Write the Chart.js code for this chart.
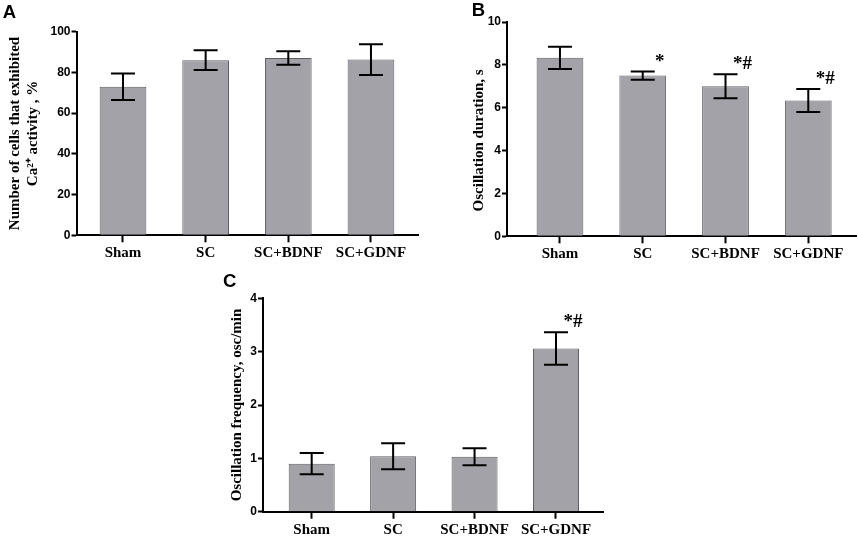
<!DOCTYPE html>
<html>
<head>
<meta charset="utf-8">
<script src="https://cdn.jsdelivr.net/npm/chart.js@4.4.1/dist/chart.umd.min.js"></script>
<style>
    html, body { margin: 0; padding: 0; background: #fff; }
    body { width: 858px; height: 536px; position: relative; overflow: hidden; }
    .panel { position: absolute; }
</style>
</head>
<body>
<div class="panel" style="left:0;top:0;width:430px;height:270px;"><canvas id="cellsChart"></canvas></div>
<div class="panel" style="left:430px;top:0;width:428px;height:270px;"><canvas id="durationChart"></canvas></div>
<div class="panel" style="left:210px;top:270px;width:430px;height:266px;"><canvas id="frequencyChart"></canvas></div>
<script>
// groups on the x axis (same for all three panels)
const groups = ['Sham', 'SC', 'SC+BDNF', 'SC+GDNF'];

// A: cells with Ca2+ activity, %
const cellsPct = [73, 86, 87.1, 86.3];
const cellsPctErr = [6.5, 4.85, 3.3, 7.55];
const cellsTicks = [0, 20, 40, 60, 80, 100];

// B: oscillation duration, s
const duration = [8.33, 7.5, 7.0, 6.34];
const durationErr = [0.52, 0.19, 0.56, 0.535];
const durationMarks = ['', '*', '*#', '*#'];
const durationTicks = [0, 2, 4, 6, 8, 10];

// C: oscillation frequency, osc/min
const frequency = [0.9, 1.04, 1.03, 3.06];
const frequencyErr = [0.2, 0.245, 0.16, 0.305];
const frequencyMarks = ['', '', '', '*#'];
const frequencyTicks = [0, 1, 2, 3, 4];

const BAR_FILL = '#a3a2a8';
const BAR_EDGE = '#5e5d62';

// error bars + significance marks, drawn over the bars
const errorBars = {
    id: 'errorBars',
    afterDatasetsDraw(chart, args, opts) {
        const ctx = chart.ctx;
        const y = chart.scales.y;
        const meta = chart.getDatasetMeta(0);
        const values = chart.data.datasets[0].data;
        ctx.save();
        ctx.strokeStyle = '#000';
        ctx.fillStyle = '#000';
        ctx.lineWidth = 2;
        meta.data.forEach((bar, i) => {
            const v = values[i].y;
            const e = opts.errors[i];
            const top = y.getPixelForValue(v + e);
            const bot = y.getPixelForValue(v - e);
            ctx.beginPath();
            ctx.moveTo(bar.x, top); ctx.lineTo(bar.x, bot);
            ctx.moveTo(bar.x - 12, top); ctx.lineTo(bar.x + 12, top);
            ctx.moveTo(bar.x - 12, bot); ctx.lineTo(bar.x + 12, bot);
            ctx.stroke();
            const mark = (opts.marks || [])[i];
            if (mark) {
                ctx.font = 'bold 19px "Liberation Serif"';
                ctx.textAlign = 'center';
                ctx.textBaseline = 'alphabetic';
                ctx.fillText(mark, bar.x + 17, top - 5);
            }
        });
        ctx.restore();
    }
};

// panel letter (A, B, C)
const panelLetter = {
    id: 'panelLetter',
    afterDraw(chart, args, opts) {
        const ctx = chart.ctx;
        ctx.save();
        ctx.font = 'bold 18.5px "Liberation Sans"';
        ctx.fillStyle = '#000';
        ctx.textAlign = 'left';
        ctx.textBaseline = 'alphabetic';
        ctx.fillText(opts.text, opts.x, opts.y);
        ctx.restore();
    }
};

function makeBarChart(id, p) {
    const ctx = document.getElementById(id).getContext('2d');
    return new Chart(ctx, {
        type: 'bar',
        data: {
            datasets: [{
                data: p.values.map((v, i) => ({ x: i, y: v })),
                backgroundColor: BAR_FILL,
                borderColor: BAR_EDGE,
                borderWidth: 1,
                barPercentage: 0.565,
                categoryPercentage: 1
            }]
        },
        options: {
            responsive: true,
            maintainAspectRatio: false,
            animation: false,
            layout: { padding: p.padding },
            plugins: {
                legend: { display: false },
                tooltip: { enabled: false },
                errorBars: { errors: p.errors, marks: p.marks },
                panelLetter: p.letter
            },
            scales: {
                x: {
                    type: 'linear',
                    offset: false,
                    min: p.xMin,
                    max: p.xMax,
                    afterBuildTicks: s => { s.ticks = groups.map((g, i) => ({ value: i })); },
                    afterFit: s => { s.height = p.xHeight; },
                    ticks: {
                        callback: v => groups[v],
                        autoSkip: false,
                        maxRotation: 0,
                        padding: 2,
                        color: '#000',
                        font: { family: 'Liberation Serif', weight: 'bold', size: 15 }
                    },
                    grid: { offset: false, drawOnChartArea: false, drawTicks: true, tickLength: 7, tickWidth: 2, tickColor: '#000' },
                    border: { display: true, color: '#000', width: 2 }
                },
                y: {
                    min: p.ticks[0],
                    max: p.ticks[p.ticks.length - 1],
                    afterBuildTicks: s => { s.ticks = p.ticks.map(v => ({ value: v })); },
                    afterFit: s => { s.width = p.yWidth; },
                    ticks: {
                        padding: 1,
                        color: '#000',
                        font: { family: 'Liberation Sans', weight: 'bold', size: 12 }
                    },
                    grid: { drawOnChartArea: false, drawTicks: true, tickLength: 5, tickWidth: 2, tickColor: '#000' },
                    border: { display: true, color: '#000', width: 2 },
                    title: {
                        display: true,
                        text: p.title,
                        color: '#000',
                        padding: { top: p.titlePad, bottom: 0 },
                        font: { family: 'Liberation Serif', weight: 'bold', size: 15, lineHeight: 1.2 }
                    }
                }
            }
        },
        plugins: [errorBars, panelLetter]
    });
}

makeBarChart('cellsChart', {
    values: cellsPct, errors: cellsPctErr, marks: [], ticks: cellsTicks,
    title: ['Number of cells that exhibited', 'Ca\u00b2\u207a activity , %'],
    titlePad: 6.5, yWidth: 76.5, xHeight: 34.7,
    padding: { left: 0, top: 31.7, right: 12, bottom: 0 },
    xMin: -0.5625, xMax: 3.569,
    letter: { text: 'A', x: 2.7, y: 18.3 }
});

makeBarChart('durationChart', {
    values: duration, errors: durationErr, marks: durationMarks, ticks: durationTicks,
    title: 'Oscillation duration, s\u2003\u2002',
    titlePad: 40, yWidth: 77, xHeight: 33.7,
    padding: { left: 0, top: 22, right: 1.3, bottom: 0 },
    xMin: -0.64, xMax: 3.585,
    letter: { text: 'B', x: 41.7, y: 16 }
});

makeBarChart('frequencyChart', {
    values: frequency, errors: frequencyErr, marks: frequencyMarks, ticks: frequencyTicks,
    title: 'Oscillation frequency, osc/min',
    titlePad: 17.7, yWidth: 53, xHeight: 24.3,
    padding: { left: 0, top: 28.3, right: 36.7, bottom: 0 },
    xMin: -0.598, xMax: 3.581,
    letter: { text: 'C', x: 13, y: 16.7 }
});
</script>
</body>
</html>
